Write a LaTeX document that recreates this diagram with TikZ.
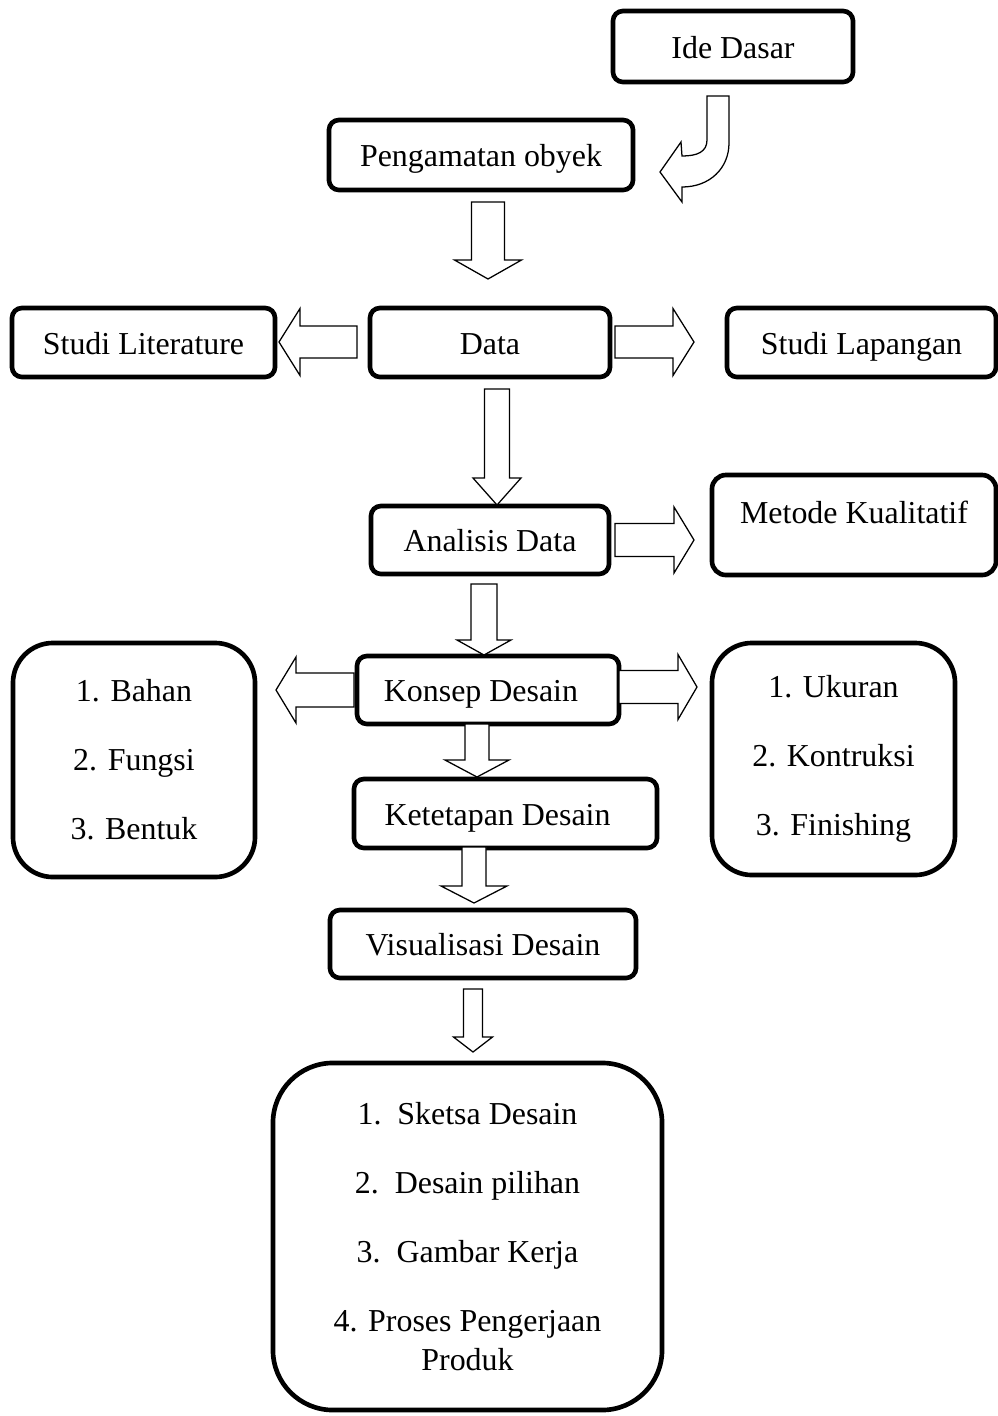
\documentclass[tikz,border=0pt]{standalone}
\usepackage{fontspec}
\setmainfont{Liberation Serif}
\usepackage{tikz}
\usetikzlibrary{calc}

% hollow block arrow: start, tip, shaft half width, head half width, head length (px)
\newcommand{\blockarrow}[5]{%
  \path ($(#2)!#5*0.25mm!(#1)$) coordinate (hb);
  \draw[hollow] ($(#1)!#3*0.25mm!90:(#2)$) -- ($(hb)!#3*0.25mm!90:(#2)$)
    -- ($(hb)!#4*0.25mm!90:(#2)$) -- (#2) -- ($(hb)!#4*0.25mm!-90:(#2)$)
    -- ($(hb)!#3*0.25mm!-90:(#2)$) -- ($(#1)!#3*0.25mm!-90:(#2)$) -- cycle;
}

\begin{document}
\begin{tikzpicture}[
  x=0.025cm, y=-0.025cm,
  font=\fontsize{22.7}{27.2}\selectfont,
  frame/.style={draw, line width=3.3pt, rounded corners=0.25cm, align=center, inner sep=0pt},
  box/.style={frame, text height=17pt, text depth=0pt},
  listbox/.style={frame, rounded corners=1cm},
  hollow/.style={draw, line width=0.9pt, fill=white, line join=miter}
]
  \useasboundingbox (0,0) rectangle (998,1416);

  \node[box, minimum width=6cm, minimum height=1.775cm] (b_ide) at (733,46.5) {Ide Dasar};
  \node[box, minimum width=7.6cm, minimum height=1.75cm] (b_peng) at (481,155) {Pengamatan obyek};
  \node[box, minimum width=6.575cm, minimum height=1.725cm] (b_lit) at (143.5,342.5) {Studi Literature};
  \node[box, minimum width=6cm, minimum height=1.725cm] (b_data) at (490,342.5) {Data};
  \node[box, minimum width=6.725cm, minimum height=1.725cm] (b_lap) at (861.5,342.5) {Studi Lapangan};
  \node[box, minimum width=5.95cm, minimum height=1.7cm] (b_ana) at (490,540) {Analisis Data};
  \node[frame, rounded corners=0.35cm, minimum width=7.1cm, minimum height=2.5cm, text depth=0.65cm] (b_met) at (854,525) {Metode Kualitatif};
  \node[box, minimum width=6.55cm, minimum height=1.7cm] (b_kon) at (488,690) {Konsep Desain\hspace{0.35cm}};
  \node[box, minimum width=7.575cm, minimum height=1.725cm] (b_ket) at (505.5,813.5) {Ketetapan Desain\hspace{0.4cm}};
  \node[box, minimum width=7.65cm, minimum height=1.7cm] (b_vis) at (483,944) {Visualisasi Desain};
  \node[listbox, minimum width=6.05cm, minimum height=5.85cm] (b_bahan) at (134,760)
    {1. Bahan\\[0.77cm] 2. Fungsi\\[0.77cm] 3. Bentuk};
  \node[listbox, minimum width=6.075cm, minimum height=5.8cm] (b_ukur) at (833.5,759)
    {1. Ukuran\\[0.77cm] 2. Kontruksi\\[0.77cm] 3. Finishing};
  \node[frame, rounded corners=1.5cm, minimum width=9.725cm, minimum height=8.675cm] (b_prod) at (467.5,1236.5)
    {1.\ \ Sketsa Desain\\[0.77cm] 2.\ \ Desain pilihan\\[0.77cm] 3.\ \ Gambar Kerja\\[0.77cm] 4. Proses Pengerjaan\\ Produk};

  \draw[hollow] (707,96) -- (729,96) -- (729,143) .. controls (729,168) and (710,187) .. (682,187)
    -- (682,202) -- (660,172) -- (681,142) -- (682,156) .. controls (697,156) and (707,152) .. (707,140) -- cycle;

  \coordinate (peng_out) at (488,202);  \coordinate (data_in) at (488,279);
  \coordinate (data_w) at (357,342);    \coordinate (lit_in) at (279,342);
  \coordinate (data_e) at (615,342);    \coordinate (lap_in) at (694,342);
  \coordinate (data_out) at (497,389);  \coordinate (ana_in) at (497,505);
  \coordinate (ana_e) at (615,540);     \coordinate (met_in) at (694,540);
  \coordinate (ana_out) at (484,584);   \coordinate (kon_in) at (484,655);
  \coordinate (kon_w) at (354,690);     \coordinate (bahan_in) at (276,690);
  \coordinate (kon_e) at (619,687);     \coordinate (ukur_in) at (697,687);
  \coordinate (kon_out) at (477,724);   \coordinate (ket_in) at (477,777);
  \coordinate (ket_out) at (474,847);   \coordinate (vis_in) at (474,903);
  \coordinate (vis_out) at (473,989);   \coordinate (prod_in) at (473,1052);

  \blockarrow{peng_out}{data_in}{16.5}{33.5}{19}
  \blockarrow{data_w}{lit_in}{16}{33.5}{21}
  \blockarrow{data_e}{lap_in}{16}{33.5}{21}
  \blockarrow{data_out}{ana_in}{12.5}{24}{27}
  \blockarrow{ana_e}{met_in}{16.5}{33}{20}
  \blockarrow{ana_out}{kon_in}{13}{27}{15}
  \blockarrow{kon_w}{bahan_in}{17}{33}{20}
  \blockarrow{kon_e}{ukur_in}{16.5}{32.5}{19}
  \blockarrow{kon_out}{ket_in}{12}{32}{17}
  \blockarrow{ket_out}{vis_in}{12}{33}{17}
  \blockarrow{vis_out}{prod_in}{9.5}{19.5}{15}
\end{tikzpicture}
\end{document}
